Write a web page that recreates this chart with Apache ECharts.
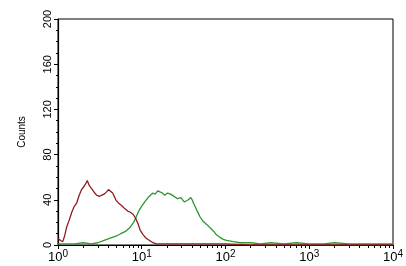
<!DOCTYPE html>
<html>
<head>
<meta charset="utf-8">
<script src="https://cdn.jsdelivr.net/npm/echarts@6/dist/echarts.min.js"></script>
<style>
html, body { margin: 0; padding: 0; background: #fff; }
#main { width: 406px; height: 266px; }
</style>
</head>
<body>
<div id="main"></div>
<script>
// channel positions (log scale) and counts
var redX = [1, 1.07, 1.14, 1.2, 1.27, 1.36, 1.46, 1.56, 1.67, 1.79, 1.91, 2.05, 2.17, 2.24, 2.35, 2.45, 2.57, 2.75, 2.9, 3.1, 3.3, 3.55, 3.8, 4.0, 4.17, 4.5, 4.9, 5.3, 5.75, 6.3, 6.8, 7.33, 7.9, 8.4, 9.0, 9.6, 10.4, 11.3, 12.4, 13.6, 15, 17, 20, 30, 50, 100, 200, 500, 1000, 3000, 10000];
var redY = [6, 4, 3, 8, 16, 22, 29, 34, 37, 44, 49, 52, 55, 57, 53, 51, 49, 46, 44, 43, 44, 45, 47, 49, 50, 46, 40, 37, 35, 32, 30, 29, 27, 24, 19, 13, 9, 6, 4, 2, 1, 1, 1, 1, 1, 1, 0, 0, 0, 0, 0];

var greenX = [1, 1.3, 1.6, 2, 2.5, 3, 3.55, 4.2, 5, 5.6, 6.4, 7.33, 8, 8.6, 9.2, 9.9, 10.8, 11.9, 12.7, 13.6, 14.5, 15.5, 16.5, 17.6, 18.8, 20.3, 22.1, 24.3, 26.7, 29.3, 32.3, 36, 38.5, 40, 41.5, 43.4, 46, 49.6, 54, 60, 66, 72.4, 78, 85, 94, 103, 124, 150, 200, 260, 350, 500, 700, 1000, 1500, 2000, 3000, 5000, 10000];
var greenY = [1, 1, 1, 2, 1, 2, 4, 6, 8, 10, 12, 16, 20, 25, 30, 34, 38, 42, 44, 46, 45, 48, 47, 46, 44, 46, 45, 43, 41, 42, 38, 40, 42, 40, 37, 34, 30, 25, 21, 18, 15, 12, 9, 7, 5, 4, 3, 2, 2, 1, 2, 1, 2, 1, 1, 2, 1, 1, 1];

var xMajor = [1, 10, 100, 1000, 10000];
var xMinor = [2, 3, 4, 5, 6, 7, 8, 9, 20, 30, 40, 50, 60, 70, 80, 90, 200, 300, 400, 500, 600, 700, 800, 900, 2000, 3000, 4000, 5000, 6000, 7000, 8000, 9000];
var expLabels = {1: '0', 10: '1', 100: '2', 1000: '3', 10000: '4'};

function pairs(xs, ys) {
    return xs.map(function (x, i) { return [x, ys[i]]; });
}

var chart = echarts.init(document.getElementById('main'));
var option = {
    animation: false,
    grid: {
        left: 58, right: 6, top: 19, bottom: 21,
        show: true, borderColor: '#000', borderWidth: 1
    },
    xAxis: [
        {
            type: 'log', logBase: 10, min: 1, max: 10000,
            axisLine: { lineStyle: { color: '#000', width: 1.2 } },
            axisTick: { length: 4, customValues: xMajor, lineStyle: { color: '#000' } },
            splitLine: { show: false },
            axisLabel: {
                customValues: xMajor,
                margin: 4,
                formatter: function (v) { return '{b|10}{s|' + expLabels[v] + '}'; },
                rich: {
                    b: { fontSize: 13, color: '#000', fontFamily: 'Liberation Sans' },
                    s: { fontSize: 10, color: '#000', verticalAlign: 'top', padding: [0, 0, 6, 0], fontFamily: 'Liberation Sans' }
                }
            }
        },
        {
            type: 'log', logBase: 10, min: 1, max: 10000,
            position: 'bottom',
            axisLine: { show: false },
            axisTick: { length: 3, customValues: xMinor, lineStyle: { color: '#000' } },
            axisLabel: { show: false },
            splitLine: { show: false }
        }
    ],
    yAxis: {
        type: 'value', min: 0, max: 200, interval: 40,
        name: 'Counts', nameLocation: 'middle', nameGap: 31, nameRotate: 90,
        nameTextStyle: { fontSize: 10, color: '#000', fontFamily: 'Liberation Sans' },
        axisLine: { show: true, lineStyle: { color: '#000', width: 1.2 } },
        axisTick: { show: true, length: 4, lineStyle: { color: '#000' } },
        minorTick: { show: true, splitNumber: 4, length: 2, lineStyle: { color: '#000' } },
        splitLine: { show: false },
        axisLabel: { rotate: 90, fontSize: 11, color: '#000', margin: 5, fontFamily: 'Liberation Sans' }
    },
    series: [
        {
            type: 'line', data: pairs(redX, redY), showSymbol: false,
            lineStyle: { color: '#8e1c1c', width: 1.3 }, z: 3
        },
        {
            type: 'line', data: pairs(greenX, greenY), showSymbol: false,
            lineStyle: { color: '#2f962f', width: 1.3 }, z: 2
        }
    ]
};
chart.setOption(option);
window.onresize = chart.resize;
</script>
</body>
</html>
